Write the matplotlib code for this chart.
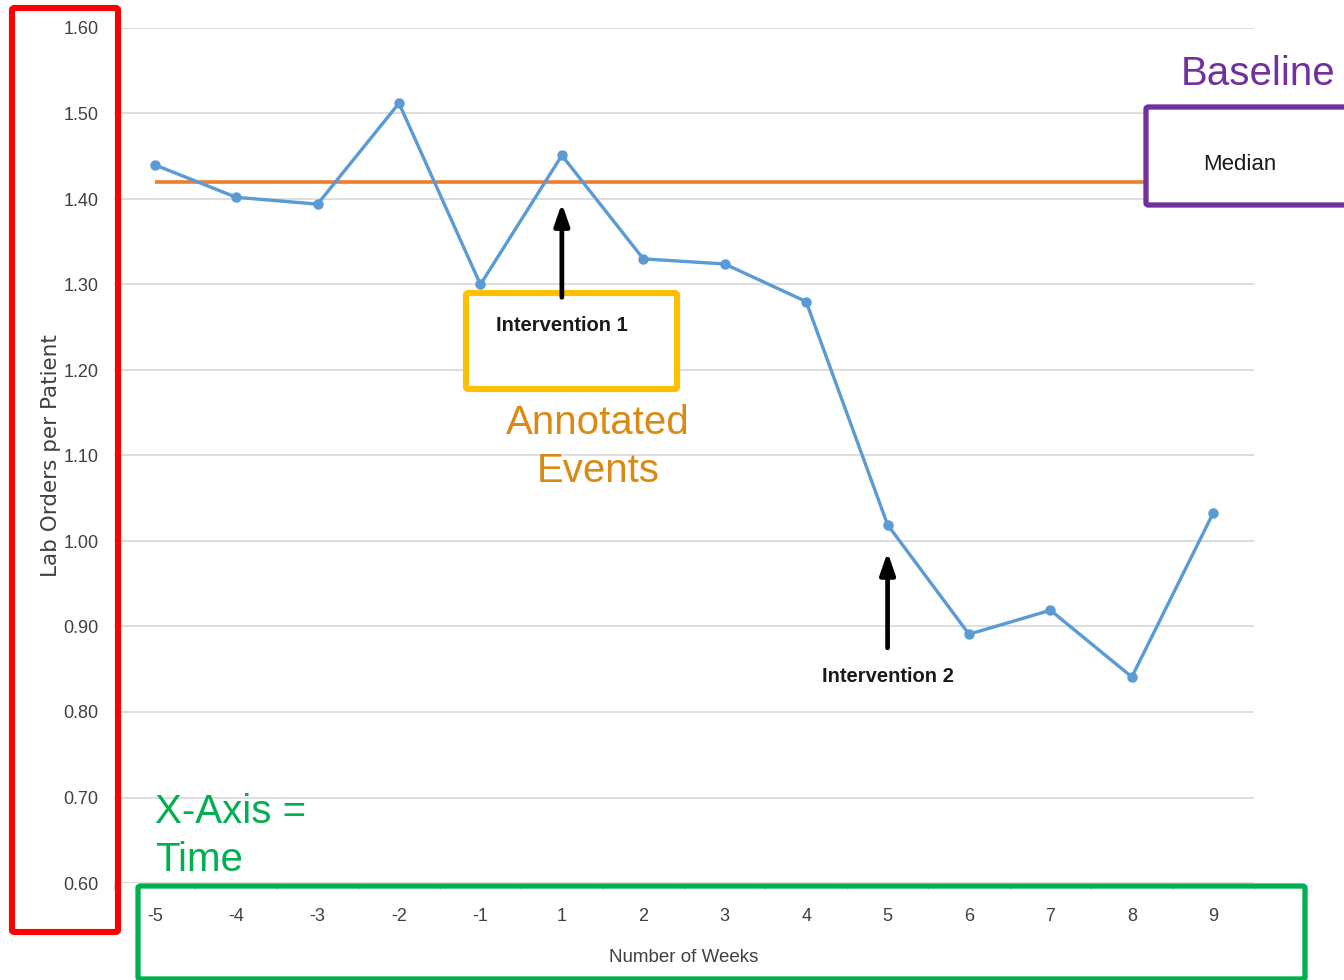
import matplotlib
matplotlib.use('Agg')
import matplotlib.pyplot as plt
from matplotlib.patches import FancyBboxPatch

weeks = ['-5', '-4', '-3', '-2', '-1', '1', '2', '3', '4', '5', '6', '7', '8', '9']
orders_per_patient = [1.44, 1.402, 1.394, 1.512, 1.30, 1.451, 1.330, 1.324,
                      1.280, 1.019, 0.891, 0.919, 0.841, 1.033]
baseline_median = 1.42
y_ticks = [0.60, 0.70, 0.80, 0.90, 1.00, 1.10, 1.20, 1.30, 1.40, 1.50, 1.60]

W, H = 1344, 980
arial = ['Liberation Sans', 'DejaVu Sans']


def fx(x):
    return x / W


def fy(y):
    return 1 - y / H


fig = plt.figure(figsize=(W / 100, H / 100), dpi=100)
ax = fig.add_axes([fx(114), fy(883), fx(1254) - fx(114), fy(28) - fy(883)])

x = list(range(len(weeks)))
ax.plot(x, orders_per_patient, color='#5B9BD5', lw=2.4, marker='o',
        markersize=6.5, zorder=4)
ax.hlines(baseline_median, 0, len(weeks) - 1, color='#ED7D31', lw=2.6, zorder=3)

ax.set_xlim(-0.5, len(weeks) - 0.5)
ax.set_ylim(0.6, 1.6)
ax.set_yticks(y_ticks)
ax.set_yticklabels(['%.2f' % v for v in y_ticks], family=arial, fontsize=13,
                   color='#404040')
ax.set_xticks(x)
ax.set_xticklabels(weeks, family=arial, fontsize=13, color='#404040')
ax.set_xticks([i + 0.5 for i in range(-1, len(weeks))], minor=True)
ax.tick_params(axis='x', which='major', length=0, pad=18)
ax.tick_params(axis='x', which='minor', length=5, width=1, color='#d9d9d9')
ax.tick_params(axis='y', length=0, pad=11)
ax.grid(axis='y', color='#dedede', lw=1.4)
ax.set_axisbelow(True)
for s in ax.spines.values():
    s.set_visible(False)

ax.set_ylabel('Lab Orders per Patient', fontsize=15.5, color='#404040',
              labelpad=2)
ax.set_xlabel('Number of Weeks', family=arial, fontsize=13.5, color='#404040',
              labelpad=17)

# intervention arrows
arrow = dict(arrowstyle='-|>,head_width=0.45,head_length=1.3', color='black',
             lw=3.4, shrinkA=0, shrinkB=0)
ax.annotate('', xy=(5, 1.395), xytext=(5, 1.285), arrowprops=arrow, zorder=6)
ax.annotate('', xy=(9, 0.987), xytext=(9, 0.875), arrowprops=arrow, zorder=6)
ax.text(5, 1.2526, 'Intervention 1', family=arial, fontweight='bold',
        fontsize=14.5, ha='center', va='center', color='#1a1a1a', zorder=7)
ax.text(9, 0.842, 'Intervention 2', family=arial, fontweight='bold',
        fontsize=14.5, ha='center', va='center', color='#1a1a1a', zorder=7)


def frame(x0, y0, x1, y1, color, lw, fill='none', z=2):
    box = FancyBboxPatch((fx(x0), fy(y1)), fx(x1) - fx(x0), fy(y0) - fy(y1),
                         boxstyle='round,pad=0,rounding_size=0.002',
                         transform=fig.transFigure, facecolor=fill,
                         edgecolor=color, lw=lw, clip_on=False, zorder=z)
    ax.add_patch(box)


frame(12, 8, 118, 932, '#FF0000', 4.4)
frame(138, 886, 1305, 979, '#00B050', 3.8)
frame(466, 293, 677, 389, '#FFC000', 4.4, fill='white', z=5)
frame(1146, 107, 1350, 205, '#7030A0', 3.8, fill='white', z=5)

fig.text(fx(1240), fy(165), 'Median', family=arial, fontsize=16,
         ha='center', va='center', color='#1a1a1a', zorder=8)
fig.text(fx(1258), fy(74), 'Baseline', family=arial, fontsize=29,
         ha='center', va='center', color='#7030A0')
fig.text(fx(598), fy(447), 'Annotated\nEvents', family=arial, fontsize=29,
         ha='center', va='center', color='#DA8A12', linespacing=1.35)
fig.text(fx(155), fy(836), 'X-Axis =\nTime', family=arial, fontsize=29,
         ha='left', va='center', color='#00B050', linespacing=1.35)

fig.savefig('out.png', dpi=100)
